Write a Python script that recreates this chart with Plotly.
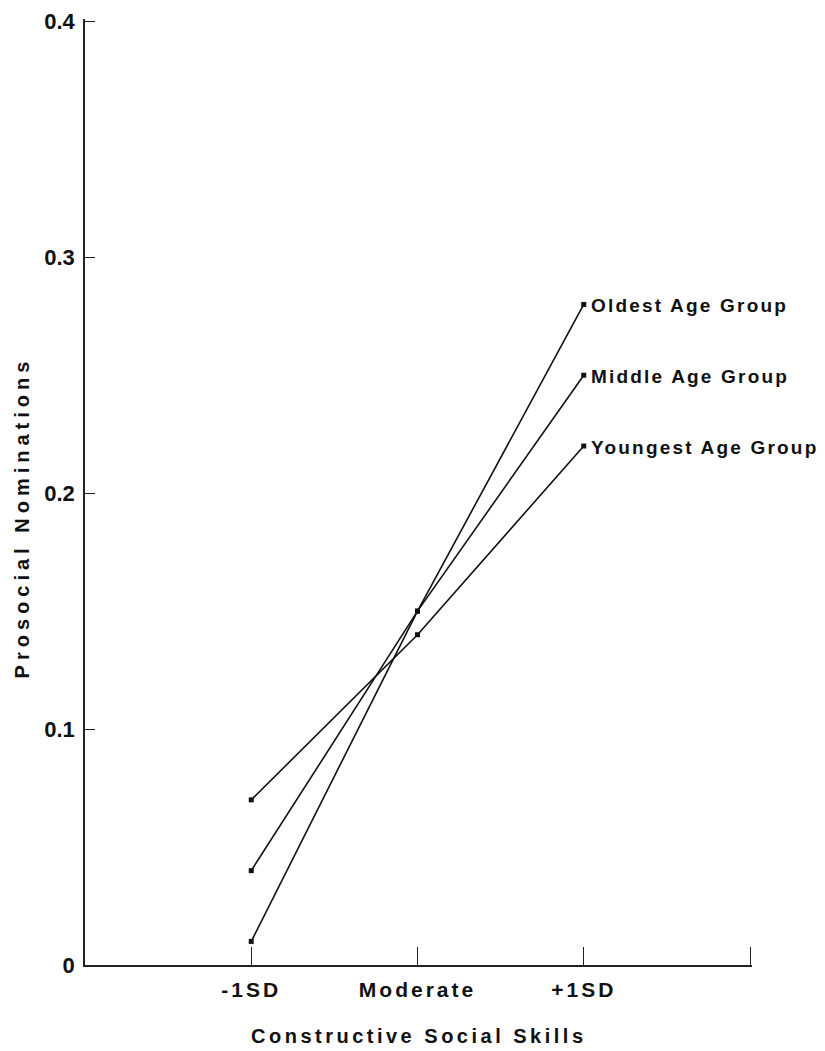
import plotly.graph_objects as go

categories = ["-1SD", "Moderate", "+1SD"]
x_pos = [1, 2, 3]
oldest = [0.01, 0.15, 0.28]
middle = [0.04, 0.15, 0.25]
youngest = [0.07, 0.14, 0.22]
series_names = ["Oldest Age Group", "Middle Age Group", "Youngest Age Group"]
y_ticks = [0, 0.1, 0.2, 0.3, 0.4]
y_tick_text = ["0", "0.1", "0.2", "0.3", "0.4"]

FONT = "Liberation Sans"


def spaced(t, px):
    return f"<span style='letter-spacing:{px}px'><b>{t}</b></span>"


fig = go.Figure()
for name, vals in zip(series_names, [oldest, middle, youngest]):
    fig.add_trace(go.Scatter(
        x=x_pos, y=vals, mode="lines+markers", name=name,
        line=dict(color="#111", width=1.6),
        marker=dict(symbol="square", size=5, color="#111"),
        showlegend=False,
    ))
    fig.add_annotation(
        x=x_pos[-1], y=vals[-1], xref="x", yref="y",
        text=spaced(name, 2.2),
        showarrow=False, xanchor="left", yanchor="middle", xshift=5, yshift=-1,
        font=dict(family=FONT, size=19, color="#111"),
    )

fig.update_layout(
    width=817, height=1043,
    margin=dict(l=77, r=73, t=11, b=86),
    paper_bgcolor="white", plot_bgcolor="white",
    font=dict(family=FONT, color="#111"),
)
fig.update_xaxes(
    range=[0, 4.012], tickvals=[1, 2, 3, 4],
    ticktext=[spaced(c, 3) for c in categories] + [""],
    showgrid=False, zeroline=False, showline=True, linecolor="#222", linewidth=1.6,
    ticks="inside", ticklen=18, tickwidth=1.4, tickcolor="#222",
    tickfont=dict(family=FONT, size=21, color="#111"),
    ticklabelstandoff=5, automargin=False,
)
fig.update_yaxes(
    range=[0, 0.401], tickvals=y_ticks, ticktext=y_tick_text,
    showgrid=False, zeroline=False, showline=True, linecolor="#222", linewidth=1.6,
    ticks="inside", ticklen=10, tickwidth=1.4, tickcolor="#222",
    tickfont=dict(family=FONT, size=22, weight="bold", color="#111"),
    ticklabelstandoff=4, automargin=False, ticklabeloverflow="allow",
)
fig.add_annotation(
    x=0.5, y=-0.0751, xref="paper", yref="paper",
    text=spaced("Constructive Social Skills", 3.5),
    showarrow=False, xanchor="center", yanchor="middle",
    font=dict(family=FONT, size=20, color="#111"),
)
fig.add_annotation(
    x=-0.0947, y=0.473, xref="paper", yref="paper",
    text=spaced("Prosocial Nominations", 5),
    showarrow=False, xanchor="center", yanchor="middle", textangle=-90,
    font=dict(family=FONT, size=20, color="#111"),
)
fig.write_html("out.html")
